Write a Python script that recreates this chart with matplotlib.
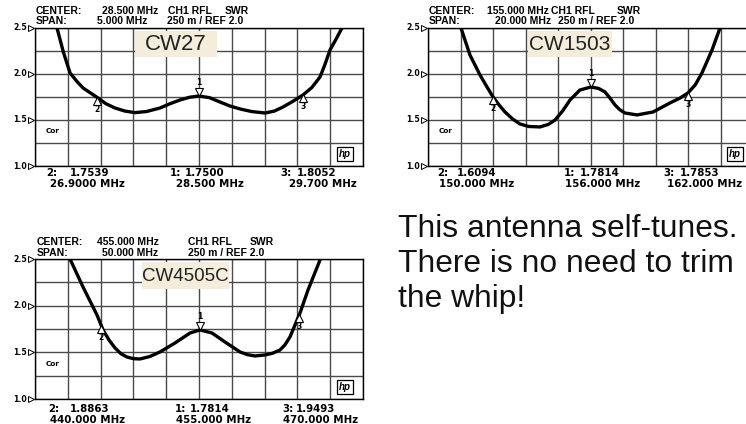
import matplotlib
matplotlib.use('Agg')
import matplotlib.pyplot as plt
import numpy as np
from matplotlib.transforms import offset_copy
from matplotlib.lines import Line2D
from matplotlib.patches import Rectangle

plt.rcParams['font.family'] = ['Liberation Sans', 'DejaVu Sans']

W, H = 746, 424

# ---------------- data ----------------
models = ["CW27", "CW1503", "CW4505C"]
centers = [28.5, 155.0, 455.0]
spans = [5.0, 20.0, 50.0]
center_txt = ["28.500 MHz", "155.000 MHz", "455.000 MHz"]
span_txt = ["5.000 MHz", "20.000 MHz", "50.000 MHz"]
ref_txt = "250 m / REF 2.0"
ytick_vals = [1.0, 1.5, 2.0, 2.5]
ytick_labels = ["1.0", "1.5", "2.0", "2.5"]

cw27_freq = [26.30, 26.335, 26.434, 26.534, 26.640, 26.732, 26.960, 27.080, 27.220, 27.370,
             27.524, 27.700, 27.905, 28.060, 28.210, 28.360, 28.500, 28.660, 28.820, 28.970,
             29.125, 29.300, 29.506, 29.650, 29.780, 29.930, 30.085, 30.220, 30.345, 30.420,
             30.497, 30.590, 30.680, 30.74]
cw27_swr = [2.58, 2.495, 2.230, 2.008, 1.915, 1.845, 1.737, 1.675, 1.628, 1.595,
            1.578, 1.590, 1.628, 1.675, 1.715, 1.745, 1.758, 1.740, 1.693, 1.650,
            1.618, 1.590, 1.574, 1.595, 1.639, 1.700, 1.769, 1.850, 1.964, 2.100,
            2.257, 2.375, 2.495, 2.573]

cw1503_freq = [146.90, 147.03, 147.58, 148.20, 148.60, 149.00, 149.40, 149.74, 150.20, 150.66,
               151.20, 151.89, 152.40, 152.82, 153.30, 153.74, 154.35, 155.03, 155.50, 155.89,
               156.20, 156.51, 156.80, 157.12, 157.86, 158.85, 159.89, 160.50, 161.00, 161.45,
               161.86, 162.48, 162.97, 163.09]
cw1503_swr = [2.564, 2.495, 2.203, 1.986, 1.865, 1.748, 1.655, 1.585, 1.510, 1.455,
              1.428, 1.423, 1.450, 1.498, 1.600, 1.715, 1.823, 1.856, 1.840, 1.802,
              1.735, 1.661, 1.610, 1.574, 1.553, 1.585, 1.683, 1.735, 1.791, 1.880,
              2.008, 2.257, 2.495, 2.58]

cw4505_freq = [435.03, 435.34, 437.32, 439.45, 440.37, 441.30, 442.20, 443.10, 444.02, 445.00,
               446.00, 447.50, 449.05, 451.34, 453.63, 455.15, 456.98, 458.96, 461.25, 462.40,
               463.54, 465.06, 466.20, 467.35, 468.10, 468.87, 470.40, 471.62, 473.45, 473.75]
cw4505_swr = [2.554, 2.50, 2.20, 1.90, 1.74, 1.630, 1.547, 1.485, 1.450, 1.432,
              1.429, 1.455, 1.504, 1.600, 1.707, 1.740, 1.707, 1.611, 1.504, 1.475,
              1.461, 1.472, 1.490, 1.525, 1.580, 1.665, 1.922, 2.168, 2.490, 2.554]

# marker positions (freq, swr) in order marker 2, 1, 3
marker_ids = ["2", "1", "3"]
cw27_mk_f = [26.945, 28.500, 30.085]
cw27_mk_s = [1.740, 1.758, 1.769]
cw1503_mk_f = [149.0, 155.03, 161.0]
cw1503_mk_s = [1.748, 1.856, 1.791]
cw4505_mk_f = [440.06, 455.15, 470.24]
cw4505_mk_s = [1.78, 1.740, 1.90]

# marker readouts
cw27_read_val = ["1.7539", "1.7500", "1.8052"]
cw27_read_f = ["26.9000 MHz", "28.500 MHz", "29.700 MHz"]
cw1503_read_val = ["1.6094", "1.7814", "1.7853"]
cw1503_read_f = ["150.000 MHz", "156.000 MHz", "162.000 MHz"]
cw4505_read_val = ["1.8863", "1.7814", "1.9493"]
cw4505_read_f = ["440.000 MHz", "455.000 MHz", "470.000 MHz"]

caption = "This antenna self-tunes.\nThere is no need to trim\nthe whip!"

# ---------------- layout ----------------
fig = plt.figure(figsize=(W / 100, H / 100), dpi=100)
fig.patch.set_facecolor('white')

SMALL = 'DejaVu Sans'
HEAD = 'Liberation Sans'


def fx(px):
    return px / W


def fy(py):
    return 1 - py / H


panels = [
    dict(x0=35, x1=363, yt=27.5, yb=166, freq=cw27_freq, swr=cw27_swr,
         mkf=cw27_mk_f, mks=cw27_mk_s, rv=cw27_read_val, rf=cw27_read_f,
         hdr_y=(11, 21.5), hdr_x=(36, 102, 168, 225, 97, 167),
         ftr_y=(173, 184), ftr_x=[(46, 70, 50), (170, 185, 176), (280, 297, 289)],
         box=(135, 31, 82, 26), boxfs=16),
    dict(x0=428, x1=753, yt=27.5, yb=166, freq=cw1503_freq, swr=cw1503_swr,
         mkf=cw1503_mk_f, mks=cw1503_mk_s, rv=cw1503_read_val, rf=cw1503_read_f,
         hdr_y=(11.5, 21.5), hdr_x=(429, 487, 551, 617, 495, 558),
         ftr_y=(173, 184), ftr_x=[(437, 457, 439), (564, 580, 565), (663, 680, 667)],
         box=(528, 31, 84, 26), boxfs=15),
    dict(x0=35, x1=363, yt=259, yb=399, freq=cw4505_freq, swr=cw4505_swr,
         mkf=cw4505_mk_f, mks=cw4505_mk_s, rv=cw4505_read_val, rf=cw4505_read_f,
         hdr_y=(242, 253), hdr_x=(37, 97, 188, 250, 102, 188),
         ftr_y=(409, 420), ftr_x=[(48, 70, 50), (175, 190, 176), (282, 296, 283)],
         box=(142, 262, 87, 27), boxfs=13.5),
]

HFS = 7.5
FFS = 7.4
for i, p in enumerate(panels):
    ax = fig.add_axes([fx(p['x0']), fy(p['yb']), fx(p['x1'] - p['x0']), (p['yb'] - p['yt']) / H])
    lo = centers[i] - spans[i] / 2
    hi = centers[i] + spans[i] / 2
    ax.set_xlim(lo, hi)
    ax.set_ylim(1.0, 2.5)
    ax.set_xticks(np.linspace(lo, hi, 11))
    ax.set_yticks(np.arange(1.0, 2.51, 0.25))
    ax.tick_params(length=0, labelbottom=False, labelleft=False)
    ax.grid(True, color='#4a4a4a', lw=1.0)
    for s in ax.spines.values():
        s.set_color('black')
        s.set_linewidth(1.0)
    ax.set_axisbelow(True)
    ax.plot(p['freq'], p['swr'], color='black', lw=2.4, solid_capstyle='round',
            solid_joinstyle='round', zorder=3)
    # markers
    for mid, mf, ms in zip(marker_ids, p['mkf'], p['mks']):
        if mid == "1":
            tr = offset_copy(ax.transData, fig=fig, x=0, y=4, units='dots')
            ax.plot([mf], [ms], marker='v', ms=6, mfc='white', mec='black', mew=0.8,
                    transform=tr, zorder=4, clip_on=False)
            ax.text(mf, ms, mid, transform=offset_copy(ax.transData, fig=fig, x=0, y=9, units='dots'),
                    ha='center', va='bottom', fontsize=5.5, weight='bold', family=SMALL, zorder=5)
        else:
            tr = offset_copy(ax.transData, fig=fig, x=0, y=-3, units='dots')
            ax.plot([mf], [ms], marker='^', ms=6, mfc='white', mec='black', mew=0.8,
                    transform=tr, zorder=4, clip_on=False)
            ax.text(mf, ms, mid, transform=offset_copy(ax.transData, fig=fig, x=0, y=-7, units='dots'),
                    ha='center', va='top', fontsize=5.5, weight='bold', family=SMALL, zorder=5)
    # y labels with triangles
    for v, lab in zip(ytick_vals, ytick_labels):
        ypx = p['yb'] - (v - 1.0) / 1.5 * (p['yb'] - p['yt'])
        fig.text(fx(p['x0'] - 8), fy(ypx), lab, ha='right', va='center', fontsize=5.6,
                 weight='bold', family=SMALL)
        fig.add_artist(Line2D([fx(p['x0'] - 4)], [fy(ypx)], marker='>', ms=4.5,
                              mfc='white', mec='black', mew=0.7, transform=fig.transFigure))
    # Cor
    colw = (p['x1'] - p['x0']) / 10
    rowh = (p['yb'] - p['yt']) / 6
    fig.text(fx(p['x0'] + 11), fy(p['yb'] - rowh * 1.5), "Cor", fontsize=5.2, weight='bold',
             family=SMALL, ha='left', va='center')
    # hp logo
    fig.text(fx(p['x0'] + colw * 9 + colw * 0.45), fy(p['yb'] - rowh * 0.52), "hp",
             fontsize=7, weight='bold', style='italic', ha='center', va='center',
             bbox=dict(boxstyle='square,pad=0.2', fc='white', ec='black', lw=0.9))
    # headers
    hx = p['hdr_x']
    y1, y2 = p['hdr_y']
    kw = dict(fontsize=HFS, weight='bold', va='center', family=HEAD)
    fig.text(fx(hx[0]), fy(y1), "CENTER:", **kw)
    fig.text(fx(hx[1]), fy(y1), center_txt[i], **kw)
    fig.text(fx(hx[2]), fy(y1), "CH1 RFL", **kw)
    fig.text(fx(hx[3]), fy(y1), "SWR", **kw)
    fig.text(fx(hx[0]), fy(y2), "SPAN:", **kw)
    fig.text(fx(hx[4]), fy(y2), span_txt[i], **kw)
    fig.text(fx(hx[5]), fy(y2), ref_txt, **kw)
    # footers
    f1, f2 = p['ftr_y']
    kf = dict(fontsize=FFS, weight='bold', va='center', family=SMALL)
    for mid, (xa, xb, xc), rv, rf in zip(marker_ids, p['ftr_x'], p['rv'], p['rf']):
        fig.text(fx(xa), fy(f1), mid + ":", **kf)
        fig.text(fx(xb), fy(f1), rv, **kf)
        fig.text(fx(xc), fy(f2), rf, **kf)
    # model label box
    bx, by, bw, bh = p['box']
    fig.add_artist(Rectangle((fx(bx), fy(by + bh)), bw / W, bh / H, transform=fig.transFigure,
                             facecolor='#f4eddc', edgecolor='none', zorder=6))
    fig.text(fx(bx + bw / 2), fy(by + bh / 2 + 1), models[i], fontsize=p['boxfs'],
             ha='center', va='center', color='#222222', zorder=7)

fig.text(fx(398), fy(264), caption, fontsize=22.9, ha='left', va='center',
         linespacing=1.2, color='#111111')

fig.savefig('out.png', dpi=100)
